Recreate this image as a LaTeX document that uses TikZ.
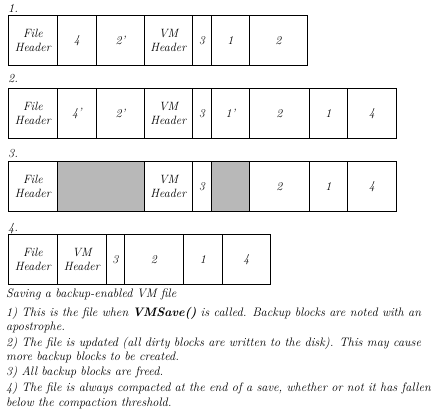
\documentclass[tikz,border=0pt]{standalone}
\begin{document}
\begin{tikzpicture}[x=1pt,y=-1pt,
    cell/.style={draw,line width=0.8pt,minimum height=50pt,inner sep=0pt,
        anchor=north west,align=center,font=\fontsize{12}{13.5}\selectfont\itshape},
    freed/.style={fill=black!28},
    caption/.style={anchor=base west,inner sep=0pt,font=\fontsize{12.3}{13.5}\selectfont\itshape}]
    \useasboundingbox (0,0) rectangle (433,419);
    %% step 1
    \node[caption] (l1) at (8,13) {1.};
    \foreach \a/\b/\t [count=\i] in {8/57/{File\\Header},57/96/4,96/144/2',144/192/{VM\\Header},
            192/211/3,211/249/1,249/307/2}
        \node[cell,minimum width=\b-\a] (r1c\i) at (\a,15) {\t};
    %% step 2
    \node[caption] (l2) at (8,83) {2.};
    \foreach \a/\b/\t [count=\i] in {8/57/{File\\Header},57/96/4',96/144/2',144/192/{VM\\Header},
            192/211/3,211/249/1',249/309/2,309/347/1,347/396/4}
        \node[cell,minimum width=\b-\a] (r2c\i) at (\a,88) {\t};
    %% step 3
    \node[caption] (l3) at (8,158) {3.};
    \foreach \a/\b/\t [count=\i] in {8/57/{File\\Header},57/144/{},144/192/{VM\\Header},
            192/211/3,211/249/{},249/309/2,309/347/1,347/396/4}
        \node[cell,minimum width=\b-\a] (r3c\i) at (\a,161) {\t};
    \node[cell,freed,minimum width=87] (r3free1) at (57,161) {};
    \node[cell,freed,minimum width=38] (r3free2) at (211,161) {};
    %% step 4 (compacted)
    \node[caption] (l4) at (8,232) {4.};
    \foreach \a/\b/\t [count=\i] in {8/57/{File\\Header},57/106/{VM\\Header},106/124/3,
            124/183/2,183/222/1,222/270/4}
        \node[cell,minimum width=\b-\a] (r4c\i) at (\a,234) {\t};
    %% notes
    \node[caption] (t0) at (6,298) {Saving a backup-enabled VM file};
    \node[caption] (t1) at (6,316) {1) This is the file when \textbf{VMSave()} is called. Backup blocks are noted with an};
    \node[caption] (t1b) at (6,330) {apostrophe.};
    \node[caption] (t2) at (6,346) {2) The file is updated (all dirty blocks are written to the disk). This may cause};
    \node[caption] (t2b) at (6,360) {more backup blocks to be created.};
    \node[caption] (t3) at (6,375) {3) All backup blocks are freed.};
    \node[caption] (t4) at (6,391) {4) The file is always compacted at the end of a save, whether or not it has fallen};
    \node[caption] (t4b) at (6,406) {below the compaction threshold.};
\end{tikzpicture}
\end{document}
